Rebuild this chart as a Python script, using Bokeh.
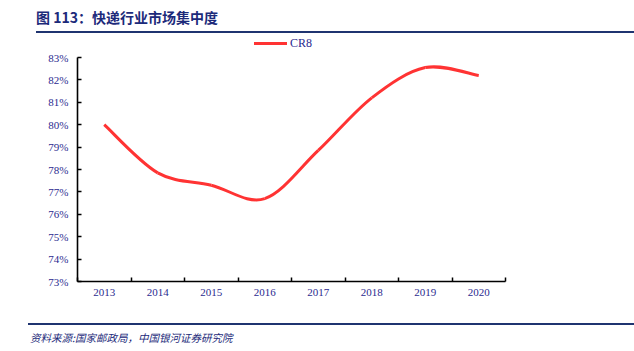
import numpy as np
from bokeh.plotting import figure
from bokeh.layouts import column
from bokeh.models import FixedTicker, ColumnDataSource, Div
from bokeh.embed import file_html
from bokeh.resources import INLINE

# ---- data ----
years = ["2013", "2014", "2015", "2016", "2017", "2018", "2019", "2020"]
cr8 = [80.0, 77.85, 77.3, 76.7, 78.85, 81.2, 82.55, 82.2]
y_ticks = [73, 74, 75, 76, 77, 78, 79, 80, 81, 82, 83]
series_name = "CR8"
title_text = "图 113：快递行业市场集中度"
source_text = "资料来源:国家邮政局，中国银河证券研究院"

W = 634
FL, FR = 77, 505
NAVY = "#1c2a7a"
LBL = "#2b2b8f"
RED = "#ff3333"
RULE = "#1f3470"

XMIN, XMAX = -0.5, len(years) - 0.5
YMIN, YMAX = 73, 83

title_div = Div(
    text=(f'<div style="position:relative;width:{W}px;height:50px;">'
          f'<div style="position:absolute;left:36px;top:8px;font-family:\'Noto Sans CJK SC\';'
          f'font-weight:bold;font-size:14px;line-height:18px;color:{NAVY};white-space:nowrap;">{title_text}</div>'
          f'<div style="position:absolute;left:36px;top:31px;width:{W-36}px;height:2px;background:{RULE};"></div>'
          f'<div style="position:absolute;left:254px;top:42px;width:33px;height:3px;background:{RED};"></div>'
          f'<div style="position:absolute;left:290px;top:36px;font-family:\'Liberation Serif\';'
          f'font-size:12px;line-height:14px;color:{LBL};">{series_name}</div>'
          f'</div>'),
    width=W, height=50, margin=0)

p = figure(width=W, height=268, output_backend="svg", toolbar_location=None,
           x_range=(XMIN, XMAX), y_range=(YMIN, YMAX),
           min_border_left=FL, min_border_right=W - FR,
           min_border_top=7, min_border_bottom=37, margin=0)
p.outline_line_color = None
p.xgrid.visible = False
p.ygrid.visible = False

# smooth line via bezier segments (Excel-like smoothing)
xs = np.arange(len(cr8), dtype=float)
ys = np.array(cr8, dtype=float)
n = len(xs)
d = dict(x0=[], y0=[], x1=[], y1=[], cx0=[], cy0=[], cx1=[], cy1=[])
for i in range(n - 1):
    im, ip = max(i - 1, 0), min(i + 2, n - 1)
    d["x0"].append(xs[i]); d["y0"].append(ys[i])
    d["x1"].append(xs[i + 1]); d["y1"].append(ys[i + 1])
    d["cx0"].append(xs[i] + (xs[i + 1] - xs[im]) / 6)
    d["cy0"].append(ys[i] + (ys[i + 1] - ys[im]) / 6)
    d["cx1"].append(xs[i + 1] - (xs[ip] - xs[i]) / 6)
    d["cy1"].append(ys[i + 1] - (ys[ip] - ys[i]) / 6)
src = ColumnDataSource(d)
p.bezier(x0="x0", y0="y0", x1="x1", y1="y1", cx0="cx0", cy0="cy0",
         cx1="cx1", cy1="cy1", source=src, line_color=RED, line_width=3)

# axes
p.xaxis.ticker = FixedTicker(ticks=list(range(len(years))),
                             minor_ticks=[i - 0.5 for i in range(len(years) + 1)])
p.xaxis.major_label_overrides = {i: y for i, y in enumerate(years)}
p.xaxis.major_tick_in = 0
p.xaxis.major_tick_out = 0
p.xaxis.minor_tick_in = 4
p.xaxis.minor_tick_out = 0
p.xaxis.minor_tick_line_color = "black"
p.xaxis.minor_tick_line_width = 1.5
p.xaxis.major_label_standoff = 7

p.yaxis.ticker = FixedTicker(ticks=y_ticks)
p.yaxis.major_label_overrides = {t: f"{t}%" for t in y_ticks}
p.yaxis.major_tick_in = 4
p.yaxis.major_tick_out = 0
p.yaxis.minor_tick_line_color = None
p.yaxis.major_label_standoff = 9
p.yaxis.major_tick_line_width = 1.5

for ax in (p.xaxis, p.yaxis):
    ax.axis_line_color = "black"
    ax.axis_line_width = 1.6
    ax.major_tick_line_color = "black"
    ax.major_label_text_font = "Liberation Serif"
    ax.major_label_text_font_size = "11px"
    ax.major_label_text_color = LBL

footer_div = Div(
    text=(f'<div style="position:relative;width:{W}px;height:33px;">'
          f'<div style="position:absolute;left:28px;top:5px;width:{W-28}px;height:2px;background:{RULE};"></div>'
          f'<div style="position:absolute;left:30px;top:13px;font-family:\'Noto Sans CJK SC\';'
          f'font-style:italic;font-size:10.5px;line-height:14px;color:{NAVY};white-space:nowrap;">{source_text}</div>'
          f'</div>'),
    width=W, height=33, margin=0)

layout = column(title_div, p, footer_div, spacing=0, margin=0)
open("out.html", "w").write(file_html(layout, INLINE))
